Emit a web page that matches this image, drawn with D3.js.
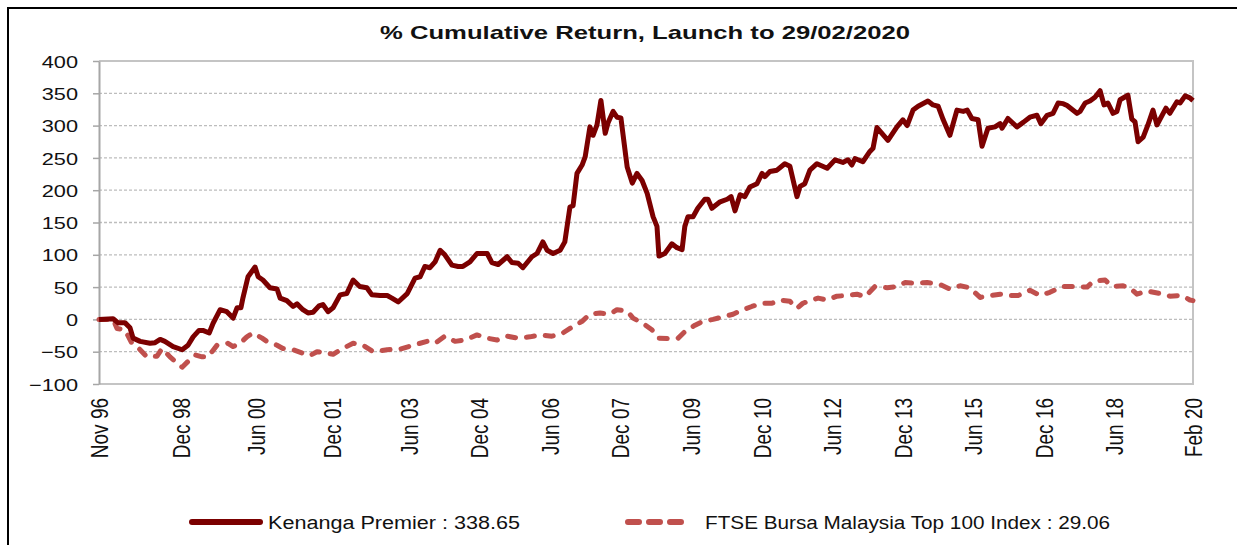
<!DOCTYPE html>
<html>
<head>
<meta charset="UTF-8">
<title>% Cumulative Return</title>
<style>
  body { margin: 0; background: #fff; }
  text { font-family: "Liberation Sans", Arial, sans-serif; fill: #111; }
</style>
</head>
<body>
<script src="https://d3js.org/d3.v7.min.js"></script>
<script>
// months since launch (Nov 96) and % cumulative return
var kenanga = [
  [0,0],[3.6,1],[4.8,-5],[6.6,-5],[7.9,-13],[8.7,-29],[10.5,-34],[13,-37],[14.3,-36],[15.6,-31],
  [16.8,-34],[18.9,-42],[21.2,-47],[22.7,-40],[24,-27],[25.5,-17],[26.5,-17],[28.1,-21],[29.1,-6],[30.9,15],
  [32.6,12],[34.2,2],[35.2,18],[36.2,18],[36.7,33],[38,66],[39.8,81],[40.6,66],[41.8,61],[43.6,49],
  [45.4,47],[46.2,33],[47.9,29],[49.5,20],[50.5,24],[52,15],[53.3,10],[54.6,11],[56.1,21],[57.1,23],
  [58.4,12],[59.7,18],[61.5,38],[63.2,40],[64.8,61],[66.5,51],[68.3,49],[69.6,38],[71.7,37],[73.5,37],
  [74.7,33],[76.3,27],[78.6,40],[80.6,64],[81.9,66],[83.1,82],[84.4,80],[85.7,89],[87,107],[88.2,100],
  [90,84],[91.6,82],[92.8,82],[94.6,89],[96.4,102],[99,102],[100.2,88],[101.8,85],[104.1,97],[105.3,88],
  [106.9,87],[108.1,80],[110.4,97],[111.7,102],[113.2,120],[114.3,107],[115.8,102],[117.6,107],[118.8,120],[120.1,174],
  [120.9,176],[121.9,226],[123.2,239],[124,252],[125.2,298],[126,285],[127,301],[128,339],[129.1,288],[129.8,304],
  [131.1,322],[132.1,313],[133.1,312],[134.7,236],[136,211],[137.2,226],[138.5,215],[139.8,195],[141.3,159],[142.3,144],
  [142.8,98],[144.3,102],[146.1,117],[147.4,111],[148.7,108],[149.4,144],[150.2,159],[151.5,159],[152.7,172],[154.5,186],
  [155.3,186],[156.3,172],[158.4,182],[160.2,186],[161.2,190],[162.2,168],[163.5,193],[164.7,190],[166,205],[167.8,210],
  [169.1,226],[169.8,221],[171.1,229],[172.9,231],[174.9,241],[176.2,237],[178,190],[178.8,206],[180,210],[181.3,231],
  [183.1,241],[185.7,234],[187.7,247],[189.7,243],[191,247],[192,239],[192.8,249],[194.8,244],[196.6,260],[197.4,265],
  [198.4,297],[201.2,277],[203.5,298],[205,309],[206.1,300],[207.6,324],[208.9,330],[211.4,338],[212.7,332],[214,330],
  [215.3,309],[217,285],[218.8,324],[220.4,322],[221.4,324],[222.6,311],[224.2,309],[225.2,268],[226.7,296],[228.5,298],
  [229.8,303],[230.3,296],[231.8,311],[234.1,298],[235.7,305],[237.4,313],[239.2,316],[240.2,303],[241.8,316],[243.3,319],
  [244.6,335],[245.9,334],[246.9,331],[249.4,319],[250.2,322],[251.5,335],[252.7,338],[254,344],[255.3,354],[256.3,332],
  [257.3,335],[258.6,319],[259.6,322],[260.4,340],[262.4,347],[263.4,310],[264.2,306],[265,275],[266.3,282],[267.5,301],
  [268.8,324],[269.8,301],[272.1,327],[273.1,319],[274.9,337],[275.7,335],[277,346],[278.2,343],[279,338.65]
];
var ftse = [
  [0,0],[3.6,0],[4.6,-14],[6.6,-16],[8.4,-37],[9.7,-42],[12.2,-58],[14.8,-57],[16.1,-45],[18.1,-58],
  [21.2,-74],[22.7,-65],[24.5,-55],[26.3,-58],[27.8,-58],[30.1,-40],[32.9,-37],[34.2,-42],[36,-37],[37.7,-27],
  [39.3,-21],[41.6,-29],[42.8,-34],[45.4,-40],[46.9,-45],[49.5,-47],[51.8,-52],[53.8,-56],[55.6,-50],[57.6,-52],
  [59.7,-54],[62.2,-45],[64.8,-37],[67.3,-40],[69.9,-50],[73.5,-47],[76.8,-46],[80.1,-40],[83.7,-34],[85.7,-37],
  [88.2,-26],[90.8,-34],[93.3,-32],[96.4,-24],[99,-29],[101.5,-32],[104.1,-26],[106.9,-29],[109.9,-27],[112.5,-24],
  [115.5,-26],[118.3,-21],[120.9,-11],[123.2,-3],[125.2,8],[127.8,10],[130.3,8],[132.1,15],[134.7,13],[136.2,2],
  [138.7,-6],[141,-16],[142.6,-29],[145.7,-30],[147.7,-29],[149.4,-19],[152,-9],[154,-3],[156.6,0],[159.1,4],
  [161.7,8],[164.2,15],[166.5,20],[169.1,25],[171.6,25],[173.7,30],[176.2,28],[178,17],[179.5,25],[183.4,33],
  [185.7,30],[188.2,36],[191,37],[193.3,39],[195.4,35],[197.9,51],[201,49],[203.5,51],[205.6,57],[208.1,56],
  [211.2,57],[214.5,54],[217,47],[219.6,52],[222.1,49],[224.7,34],[227.2,37],[229.8,39],[231.6,37],[234.4,37],
  [237.4,45],[240,37],[242.5,42],[245.6,51],[248.4,51],[252,50],[253.5,59],[256.6,61],[258.3,51],[261.2,52],
  [262.9,49],[264.7,39],[267.3,44],[270.6,40],[273.1,36],[276.2,37],[278.2,30],[279,29.06]
];
var tickLabels = ["Nov 96","Dec 98","Jun 00","Dec 01","Jun 03","Dec 04","Jun 06","Dec 07",
                  "Jun 09","Dec 10","Jun 12","Dec 13","Jun 15","Dec 16","Jun 18","Feb 20"];
var tickMonths = [0, 21, 40, 59.5, 79, 97, 115, 133, 151, 169, 187, 205, 223, 241, 259, 279];
var yTicks = [-100, -50, 0, 50, 100, 150, 200, 250, 300, 350, 400];
var seriesNames = ["Kenanga Premier : 338.65", "FTSE Bursa Malaysia Top 100 Index : 29.06"];

var width = 1237, height = 545;
var margin = {left: 99, right: 44, top: 61, bottom: 161};
var solidColor = "#7b0000", dashColor = "#c0504d";

var svg = d3.select("body").append("svg")
  .attr("width", width)
  .attr("height", height);

// outer frame (runs off the right and bottom of the picture)
svg.append("rect")
  .attr("x", 8).attr("y", 8)
  .attr("width", 1300).attr("height", 600)
  .attr("fill", "none").attr("stroke", "#000").attr("stroke-width", 2);

svg.append("text")
  .attr("x", 645).attr("y", 39)
  .attr("text-anchor", "middle")
  .attr("font-size", 19).attr("font-weight", "bold")
  .attr("textLength", 530).attr("lengthAdjust", "spacingAndGlyphs")
  .text("% Cumulative Return, Launch to 29/02/2020");

var x = d3.scaleLinear().domain([0, 279]).range([margin.left, width - margin.right]);
var y = d3.scaleLinear().domain([-100, 400]).range([height - margin.bottom, margin.top]);

// gridlines
svg.append("g").selectAll("line")
  .data(yTicks.filter(function(d) { return d > -100 && d < 400; }))
  .enter().append("line")
  .attr("x1", x(0)).attr("x2", x(279))
  .attr("y1", function(d) { return y(d); })
  .attr("y2", function(d) { return y(d); })
  .attr("stroke", "#bdbdbd").attr("stroke-width", 1.3)
  .attr("stroke-dasharray", "3,2");

// plot frame top / right / bottom
svg.append("path")
  .attr("d", "M" + x(0) + "," + y(400) + "H" + x(279) + "V" + y(-100) + "H" + x(0))
  .attr("fill", "none").attr("stroke", "#c4c4c4").attr("stroke-width", 2);

// y axis
var yAxis = svg.append("g")
  .attr("transform", "translate(" + margin.left + ",0)")
  .call(d3.axisLeft(y).tickValues(yTicks).tickSize(6).tickSizeOuter(0));
yAxis.select(".domain").attr("stroke", "#a6a6a6").attr("stroke-width", 2);
yAxis.selectAll(".tick line").attr("stroke", "#a6a6a6").attr("stroke-width", 1.5);
yAxis.selectAll(".tick text")
  .attr("font-family", "Liberation Sans, Arial, sans-serif")
  .attr("font-size", 17).attr("fill", "#111")
  .attr("x", -21 / 1.28).attr("dy", "0.36em")
  .attr("transform", "scale(1.28,1)");

// x tick labels, rotated
svg.append("g").selectAll("text")
  .data(tickLabels)
  .enter().append("text")
  .attr("transform", function(d, i) {
    return "translate(" + x(tickMonths[i]) + ",398) rotate(-90) scale(1,1.3)";
  })
  .attr("text-anchor", "end")
  .attr("dy", "0.36em")
  .attr("font-size", 19)
  .text(function(d) { return d; });

var line = d3.line()
  .x(function(d) { return x(d[0]); })
  .y(function(d) { return y(d[1]); });

svg.append("path")
  .datum(ftse)
  .attr("d", line)
  .attr("fill", "none").attr("stroke", dashColor).attr("stroke-width", 5)
  .attr("stroke-dasharray", "8,11").attr("stroke-linecap", "round")
  .attr("stroke-linejoin", "round");

svg.append("path")
  .datum(kenanga)
  .attr("d", line)
  .attr("fill", "none").attr("stroke", solidColor).attr("stroke-width", 5)
  .attr("stroke-linejoin", "round");

// legend
var legend = svg.append("g");
legend.append("line")
  .attr("x1", 192).attr("x2", 260).attr("y1", 522).attr("y2", 522)
  .attr("stroke", solidColor).attr("stroke-width", 6).attr("stroke-linecap", "round");
legend.append("line")
  .attr("x1", 628).attr("x2", 686).attr("y1", 522).attr("y2", 522)
  .attr("stroke", dashColor).attr("stroke-width", 6).attr("stroke-linecap", "round")
  .attr("stroke-dasharray", "11,10");
legend.append("text")
  .attr("x", 268).attr("y", 529)
  .attr("font-size", 18)
  .attr("textLength", 252).attr("lengthAdjust", "spacingAndGlyphs")
  .text(seriesNames[0]);
legend.append("text")
  .attr("x", 705).attr("y", 529)
  .attr("font-size", 18)
  .attr("textLength", 405).attr("lengthAdjust", "spacingAndGlyphs")
  .text(seriesNames[1]);
</script>
</body>
</html>
